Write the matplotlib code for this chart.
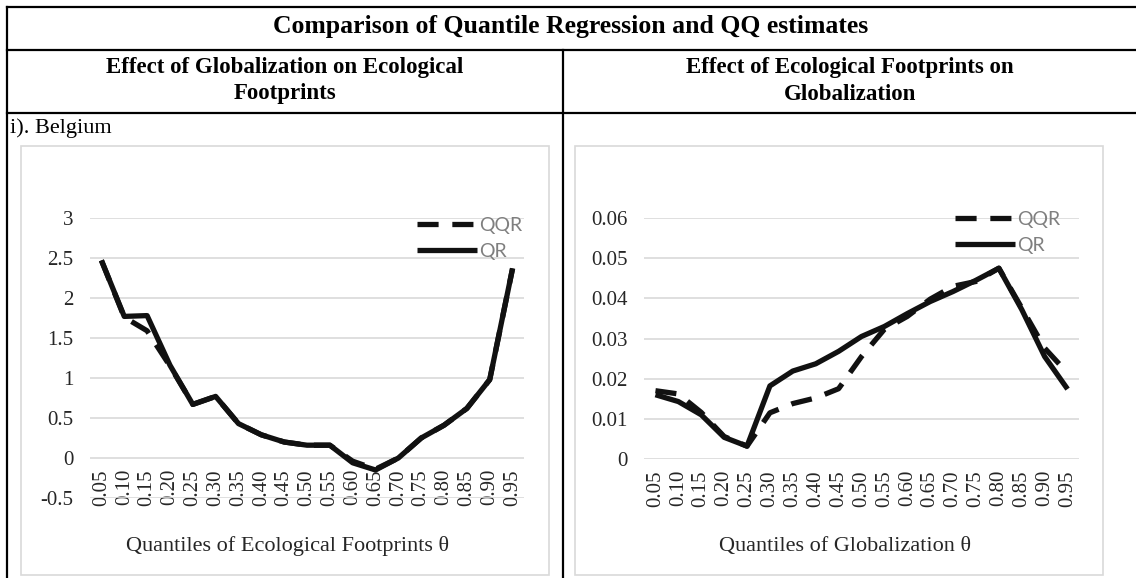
import matplotlib
matplotlib.use("Agg")
import matplotlib.pyplot as plt
from matplotlib.lines import Line2D
from matplotlib.patches import Rectangle

# quantile grid shared by both panels
quantiles = ["0.05", "0.10", "0.15", "0.20", "0.25", "0.30", "0.35", "0.40", "0.45", "0.50",
             "0.55", "0.60", "0.65", "0.70", "0.75", "0.80", "0.85", "0.90", "0.95"]

# Effect of globalization on ecological footprints
left_qqr = [2.47, 1.76, 1.59, 1.15, 0.67, 0.77, 0.43, 0.29, 0.20, 0.16,
            0.16, -0.04, -0.14, 0.00, 0.25, 0.41, 0.62, 0.98, 2.37]
left_qr = [2.47, 1.77, 1.78, 1.16, 0.67, 0.77, 0.43, 0.29, 0.20, 0.16,
           0.16, -0.06, -0.15, 0.00, 0.25, 0.41, 0.62, 0.98, 2.37]
left_yticks = [-0.5, 0, 0.5, 1, 1.5, 2, 2.5, 3]
left_ylabels = ["-0.5", "0", "0.5", "1", "1.5", "2", "2.5", "3"]

# Effect of ecological footprints on globalization
right_qqr = [0.0170, 0.0162, 0.0116, 0.0056, 0.0032, 0.0115, 0.0138, 0.0152, 0.0175, 0.0255,
             0.0323, 0.0355, 0.0398, 0.0430, 0.0442, 0.0475, 0.0376, 0.0276, 0.0214]
right_qr = [0.0160, 0.0143, 0.0110, 0.0054, 0.0032, 0.0182, 0.0219, 0.0237, 0.0268, 0.0305,
            0.0330, 0.0362, 0.0392, 0.0417, 0.0445, 0.0475, 0.0372, 0.0255, 0.0174]
right_yticks = [0, 0.01, 0.02, 0.03, 0.04, 0.05, 0.06]
right_ylabels = ["0", "0.01", "0.02", "0.03", "0.04", "0.05", "0.06"]

W, H = 1136, 578
plt.rcParams["font.family"] = ["Liberation Serif", "DejaVu Serif"]

fig = plt.figure(figsize=(W / 100, H / 100), dpi=100)
fig.patch.set_facecolor("white")


def rect(x0, y0, x1, y1):
    return [x0 / W, 1 - y1 / H, (x1 - x0) / W, (y1 - y0) / H]


def fx(x):
    return x / W


def fy(y):
    return 1 - y / H


# table rules
for (x0, y0, x1, y1) in [(7, 7, W, 7), (7, 50, W, 50), (7, 113, W, 113),
                         (7, 7, 7, H), (563, 50, 563, H)]:
    fig.add_artist(Line2D([fx(x0), fx(x1)], [fy(y0), fy(y1)], color="black", lw=1.6))

# chart frames
for (x0, y0, x1, y1) in [(21, 146, 549, 575), (575, 146, 1103, 575)]:
    fig.add_artist(Rectangle((fx(x0), fy(y1)), fx(x1) - fx(x0), fy(y0) - fy(y1),
                             transform=fig.transFigure, fill=False,
                             edgecolor="#d9d9d9", lw=1.2))

fig.text(fx(571), fy(27), "Comparison of Quantile Regression and QQ estimates",
         ha="center", va="center", fontsize=18.5, fontweight="bold")
fig.text(fx(285), fy(68), "Effect of Globalization on Ecological",
         ha="center", va="center", fontsize=16.5, fontweight="bold")
fig.text(fx(285), fy(94), "Footprints",
         ha="center", va="center", fontsize=16.5, fontweight="bold")
fig.text(fx(850), fy(68), "Effect of Ecological Footprints on",
         ha="center", va="center", fontsize=16.5, fontweight="bold")
fig.text(fx(850), fy(94), "Globalization",
         ha="center", va="center", fontsize=16.5, fontweight="bold")
fig.text(fx(10), fy(128), "i). Belgium", ha="left", va="center", fontsize=16)


def panel(box, qqr, qr, yticks, ylabels, xtitle, xtitle_pos, leg_pos):
    ax = fig.add_axes(rect(*box))
    x = list(range(len(quantiles)))
    ax.plot(x, qqr, color="#111111", lw=3.8, ls=(0, (4, 2.6)),
            dash_capstyle="butt", solid_joinstyle="round", label="QQR")
    ax.plot(x, qr, color="#111111", lw=3.8, solid_joinstyle="round",
            solid_capstyle="butt", label="QR")
    ax.set_xlim(-0.5, len(quantiles) - 0.5)
    ax.set_ylim(yticks[0], yticks[-1])
    ax.set_yticks(yticks)
    ax.set_yticklabels(ylabels)
    ax.set_xticks(x)
    ax.set_xticklabels(quantiles)
    ax.spines["bottom"].set_position(("data", 0))
    for s in ax.spines.values():
        s.set_visible(False)
    ax.grid(axis="y", color="#d9d9d9", lw=1.2)
    ax.set_axisbelow(True)
    ax.tick_params(axis="y", length=0, pad=12, labelsize=15, labelcolor="#262626")
    ax.tick_params(axis="x", length=0, pad=8, labelsize=15, labelcolor="#262626",
                   labelrotation=90)
    for lbl in ax.get_xticklabels():
        lbl.set_va("top")
        lbl.set_ha("center")
    ax.patch.set_alpha(0)
    fig.text(fx(xtitle_pos[0]), fy(xtitle_pos[1]), xtitle, ha="center", va="center",
             fontsize=16, color="#262626")
    leg = ax.legend(loc="upper left", bbox_to_anchor=(fx(leg_pos[0]), fy(leg_pos[1])),
                    bbox_transform=fig.transFigure, frameon=False,
                    prop={"family": ["Lato", "DejaVu Sans"], "size": 14},
                    handlelength=3.1, handletextpad=0.1, labelspacing=0.45,
                    borderpad=0, borderaxespad=0)
    for t in leg.get_texts():
        t.set_color("#7f7f7f")
    return ax


panel((90, 218, 524, 498), left_qqr, left_qr, left_yticks, left_ylabels,
      "Quantiles of Ecological Footprints \u03b8", (288, 546), (417, 217))
panel((644, 218, 1079, 459), right_qqr, right_qr, right_yticks, right_ylabels,
      "Quantiles of Globalization \u03b8", (845, 546), (955, 211))

fig.savefig("out.png", dpi=100)
